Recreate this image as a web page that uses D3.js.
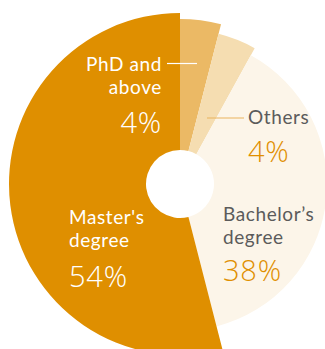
<!DOCTYPE html>
<html>
<head>
<meta charset="utf-8">
<script src="https://cdn.jsdelivr.net/npm/d3@7"></script>
<style>
  html, body { margin: 0; padding: 0; background: #fff; }
  svg { display: block; }
  text { font-family: "Open Sans", "Noto Sans", sans-serif; }
  text.name { font-family: Lato, "Open Sans", sans-serif; letter-spacing: 0.6px; }
  text.share { letter-spacing: 0.8px; }
</style>
</head>
<body>
<svg id="chart" width="325" height="349"></svg>
<script>
// Education breakdown, clockwise from 12 o'clock
const categories = ["PhD and above", "Others", "Bachelor’s degree", "Master's degree"];
const shares = [4, 4, 38, 54];
const labelLines = [["PhD and", "above"], ["Others"], ["Bachelor’s", "degree"], ["Master's", "degree"]];
const valueLabels = ["4%", "4%", "38%", "54%"];

const W = 325, H = 349;
const cx = 180, cy = 184;
const holeR = 34;

// each slice gets its own outer radius
const outerR = [165, 155, 147, 171];
const fills = ["#EBB965", "#F5DDB1", "#FCF5E9", "#DF8F00"];
const nameColor = ["#ffffff", "#5B5B5B", "#5B5B5B", "#ffffff"];
const valueColor = ["#ffffff", "#E08F00", "#E08F00", "#ffffff"];

// label anchor, x, first baseline, line step and value baseline
const labelPos = [
  { anchor: "end",   x: 162, y: 71,  step: 23, value: 133 },
  { anchor: "start", x: 248, y: 124, step: 23, value: 162 },
  { anchor: "start", x: 223, y: 221, step: 22.5, value: 281 },
  { anchor: "start", x: 69,  y: 224, step: 23, value: 287 }
];
// leader lines for the two narrow slices
const leaders = [
  { i: 0, x1: 167, x2: 197, y: 63.5, color: "#ffffff" },
  { i: 1, x1: 207, x2: 244, y: 118,  color: "#E9B45F" }
];

const svg = d3.select("#chart");
const g = svg.append("g").attr("transform", `translate(${cx},${cy})`);

const pie = d3.pie().sort(null).value(d => d.v).startAngle(0).endAngle(2 * Math.PI);
const arcs = pie(shares.map((v, i) => ({ v, i })));

const arc = d3.arc()
  .innerRadius(holeR)
  .outerRadius(d => outerR[d.data.i]);

g.selectAll("path.slice")
  .data(arcs)
  .join("path")
  .attr("class", "slice")
  .attr("d", arc)
  .attr("fill", d => fills[d.data.i]);

// leader lines
svg.selectAll("line.leader")
  .data(leaders)
  .join("line")
  .attr("class", "leader")
  .attr("x1", d => d.x1).attr("x2", d => d.x2)
  .attr("y1", d => d.y).attr("y2", d => d.y)
  .attr("stroke", d => d.color)
  .attr("stroke-width", 1.2);

// labels: category name (wrapped) and share
categories.forEach((c, i) => {
  const p = labelPos[i];
  const lg = svg.append("g").attr("class", "label");
  const name = lg.append("text")
    .attr("class", "name")
    .attr("x", p.x).attr("y", p.y)
    .attr("text-anchor", p.anchor)
    .attr("font-size", 19)
    .attr("fill", nameColor[i]);
  labelLines[i].forEach((t, k) => {
    name.append("tspan")
      .attr("x", p.x)
      .attr("dy", k === 0 ? 0 : p.step)
      .text(t);
  });
  lg.append("text")
    .attr("class", "share")
    .attr("x", p.x).attr("y", p.value)
    .attr("text-anchor", p.anchor)
    .attr("font-size", 29)
    .attr("font-weight", 350)
    .attr("fill", valueColor[i])
    .text(valueLabels[i]);
});
</script>
</body>
</html>
